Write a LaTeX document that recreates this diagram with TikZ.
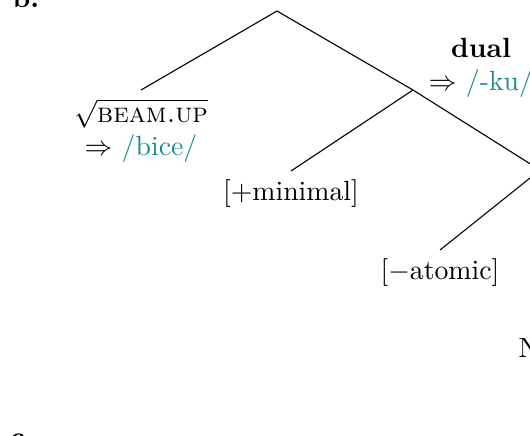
\documentclass[tikz,border=0pt]{standalone}
\usepackage{amsmath}
\usepackage{xcolor}
\usepackage{tikz}
\usetikzlibrary{positioning}
\definecolor{expo}{HTML}{1B8B8B}
\newcommand{\expn}[1]{$\Rightarrow$ \textcolor{expo}{#1}}
\tikzset{
  feat/.style={inner sep=3pt, align=center},
  branch/.style={draw=black, line width=0.4pt},
  exlabel/.style={font=\bfseries, inner sep=0pt, anchor=base west},
}

\begin{document}
\begin{tikzpicture}[x=0.36pt,y=-0.36pt]
\useasboundingbox (0,0) rectangle (530,435);
% example labels
\node[exlabel] (lb) at (12,7) {b.};
\node[exlabel] (lc) at (10,446) {c.};
% junctions
\coordinate (top) at (277,11);
\coordinate (nd) at (413,90);
\coordinate (nn) at (540,170);
% leaves
\node[feat, anchor=north] (rt) at (141,90) {$\sqrt{\text{\textsc{beam.up}}}$\\\expn{/bice/}};
\node[feat, anchor=north] (mn) at (291,171) {[+minimal]};
\node[feat, anchor=north] (at) at (440,250) {[$-$atomic]};
\node[inner sep=0pt, anchor=base west] (num) at (518,357) {N};
% exponent of the dual head
\node[feat] (du) at (481,68) {\textbf{dual}\\\expn{/-ku/}};
% tree
\draw[branch] (rt.north) -- (top) -- (nd) -- (nn);
\draw[branch] (nd) -- (mn.north);
\draw[branch] (nn) -- (at.north);
\end{tikzpicture}
\end{document}
